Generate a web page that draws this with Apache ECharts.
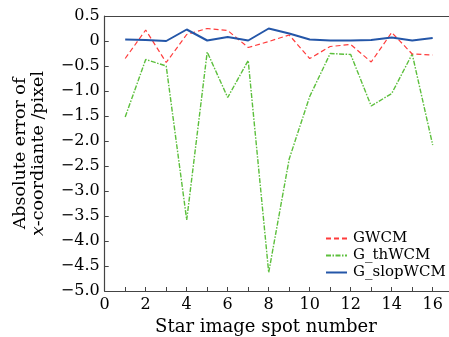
<!DOCTYPE html>
<html>
<head>
<meta charset="utf-8">
<script src="https://cdn.jsdelivr.net/npm/echarts@6/dist/echarts.min.js"></script>
<style>
  html, body { margin: 0; padding: 0; background: #fff; }
  #chart { width: 449px; height: 337px; }
</style>
</head>
<body>
<div id="chart"></div>
<script>
// Star image spot indices
const spots = [1, 2, 3, 4, 5, 6, 7, 8, 9, 10, 11, 12, 13, 14, 15, 16];

// Absolute x-coordinate error (pixel) for each centroid method
const gwcm = [-0.35, 0.22, -0.43, 0.13, 0.25, 0.21, -0.13, -0.01, 0.12, -0.35, -0.11, -0.07, -0.42, 0.17, -0.26, -0.28];
const gThWcm = [-1.52, -0.37, -0.50, -3.58, -0.22, -1.13, -0.39, -4.63, -2.36, -1.11, -0.25, -0.27, -1.30, -1.05, -0.26, -2.08];
const gSlopWcm = [0.03, 0.02, 0.00, 0.23, 0.01, 0.08, 0.01, 0.25, 0.15, 0.03, 0.01, 0.01, 0.02, 0.07, 0.01, 0.06];

const xTicks = [0, 2, 4, 6, 8, 10, 12, 14, 16];
const yTicks = [0.5, 0, -0.5, -1.0, -1.5, -2.0, -2.5, -3.0, -3.5, -4.0, -4.5, -5.0];

const FONT = 'DejaVu Serif';
const AXIS_COLOR = '#444';
const pairs = arr => spots.map((s, i) => [s, arr[i]]);

const chart = echarts.init(document.getElementById('chart'), null, { renderer: 'canvas' });
chart.setOption({
  animation: false,
  backgroundColor: '#fff',
  textStyle: { fontFamily: FONT, color: '#000' },
  // the frame runs past the right edge of the canvas, so keep the grid as given
  grid: { left: 104.7, top: 16, width: 348.5, height: 275, containLabel: false, outerBoundsMode: 'none' },
  legend: {
    orient: 'vertical',
    left: 325, top: 230,
    padding: 0,
    itemWidth: 21, itemHeight: 10, itemGap: 0,
    itemStyle: { opacity: 0 },
    textStyle: { fontFamily: FONT, fontSize: 15, lineHeight: 17, color: '#000', padding: [0, 0, 0, 1] },
    data: ['GWCM', 'G_thWCM', 'G_slopWCM']
  },
  xAxis: [{
    type: 'value', min: 0, max: 17, interval: 1,
    name: 'Star image spot number', nameLocation: 'middle', nameGap: 27,
    nameTextStyle: { fontFamily: FONT, fontSize: 18, color: '#000', padding: [0, 26, 0, 0] },
    axisLine: { onZero: false, lineStyle: { color: AXIS_COLOR, width: 1.2 } },
    axisTick: { inside: true, length: 4, lineStyle: { color: AXIS_COLOR },
      interval: (i, v) => xTicks.includes(v) },
    axisLabel: { fontFamily: FONT, fontSize: 16, color: '#000', margin: 6,
      formatter: v => xTicks.includes(v) ? String(v) : '' },
    splitLine: { show: false }
  }, {
    type: 'value', min: 0, max: 17, position: 'top',
    axisLine: { onZero: false, lineStyle: { color: AXIS_COLOR, width: 1.2 } },
    axisTick: { show: false }, axisLabel: { show: false }, splitLine: { show: false }
  }],
  yAxis: {
    type: 'value', min: -5, max: 0.5, interval: 0.5,
    name: '{n|Absolute error of}\n{i|x}{n|-coordiante /pixel}',
    nameLocation: 'middle', nameRotate: 90, nameGap: 57,
    nameTextStyle: {
      fontFamily: FONT, fontSize: 17.5, color: '#000', lineHeight: 18, align: 'center',
      rich: {
        n: { fontFamily: FONT, fontSize: 17.5, color: '#000', lineHeight: 18 },
        i: { fontFamily: FONT, fontSize: 17.5, color: '#000', fontStyle: 'italic', lineHeight: 18 }
      }
    },
    axisLine: { onZero: false, lineStyle: { color: AXIS_COLOR, width: 1.2 } },
    axisTick: { inside: true, length: 4, lineStyle: { color: AXIS_COLOR } },
    axisLabel: { fontFamily: FONT, fontSize: 16, color: '#000', margin: 5,
      formatter: v => {
        const t = yTicks.find(y => Math.abs(y - v) < 1e-9);
        if (t === undefined) return '';
        if (t === 0) return '0';
        return (t < 0 ? '\u2212' : '') + Math.abs(t).toFixed(1);
      } },
    splitLine: { show: false }
  },
  series: [{
    name: 'GWCM', type: 'line', symbol: 'none', data: pairs(gwcm), z: 3,
    lineStyle: { color: '#ff3b3b', width: 1.2, type: [5, 3] },
    itemStyle: { color: '#ff3b3b' }
  }, {
    name: 'G_thWCM', type: 'line', symbol: 'none', data: pairs(gThWcm), z: 2,
    lineStyle: { color: '#5cbf3c', width: 1.4, type: [5, 1.5, 1.5, 1.5] },
    itemStyle: { color: '#5cbf3c' }
  }, {
    name: 'G_slopWCM', type: 'line', symbol: 'none', data: pairs(gSlopWcm), z: 4,
    lineStyle: { color: '#2456a8', width: 2 },
    itemStyle: { color: '#2456a8' }
  }]
});
</script>
</body>
</html>
